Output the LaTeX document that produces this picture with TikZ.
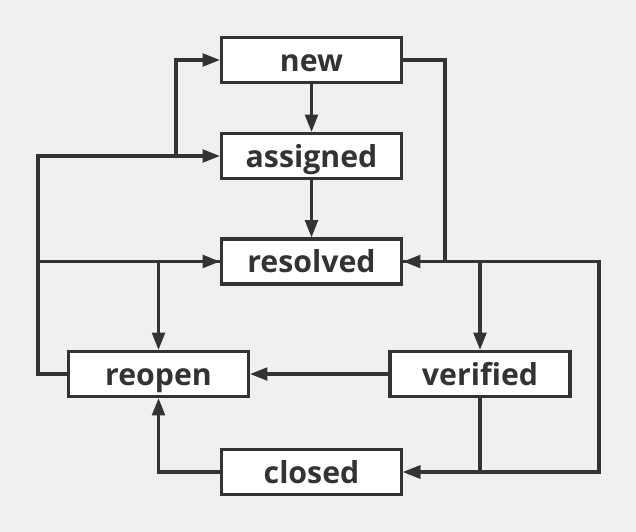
\documentclass[tikz,border=0pt]{standalone}
\usepackage{fontspec}
\setmainfont{Open Sans}
\usetikzlibrary{arrows.meta}
\definecolor{ink}{HTML}{333333}
\definecolor{bg}{HTML}{F0F0F0}
\tikzset{
  state/.style={draw=ink, fill=white, line width=2.3pt, minimum width=180*0.75pt, minimum height=45*0.75pt, inner sep=0pt, text height=20pt, text depth=3.5pt, text=ink, font=\bfseries\fontsize{22.7}{26}\selectfont},
  conn/.style={draw=ink, line width=2.3pt},
  arr/.style={conn, -{Triangle[length=13pt,width=9.5pt]}}
}
\begin{document}
\begin{tikzpicture}[x=0.75pt,y=-0.75pt]
\fill[bg] (0,0) rectangle (636,532);
\useasboundingbox (0,0) rectangle (636,532);
\node[state] (new) at (311.5,60) {new};
\node[state] (assigned) at (311.5,156) {assigned};
\node[state] (resolved) at (311.5,261.5) {resolved};
\node[state] (reopen) at (158.5,374) {reopen};
\node[state] (verified) at (480,374) {verified};
\node[state] (closed) at (311.5,472) {closed};
% vertical chain
\draw[arr] (new) -- (assigned);
\draw[arr] (assigned) -- (resolved);
% new -> resolved (right side)
\draw[arr] (new.east) -- (445,60) -- (445,261.5) -- (resolved.east);
% resolved -> verified
\draw[arr] (resolved.east) -- (480,261.5) -- (verified.north);
% resolved -> closed (far right)
\draw[arr] (resolved.east) -- (599,261.5) -- (599,472) -- (closed.east);
% verified -> closed
\draw[arr] (verified.south) -- (480,472) -- (closed.east);
% verified -> reopen
\draw[arr] (verified.west) -- (reopen.east);
% closed -> reopen
\draw[arr] (closed.west) -- (158.5,472) -- (reopen.south);
% resolved -> reopen
\draw[arr] (resolved.west) -- (158.5,261.5) -- (reopen.north);
% reopen -> assigned / new / resolved
\draw[arr] (reopen.west) -- (38,374) -- (38,156) -- (assigned.west);
\draw[arr] (176,156) -- (176,60) -- (new.west);
\draw[arr] (38,261.5) -- (resolved.west);
\end{tikzpicture}
\end{document}
